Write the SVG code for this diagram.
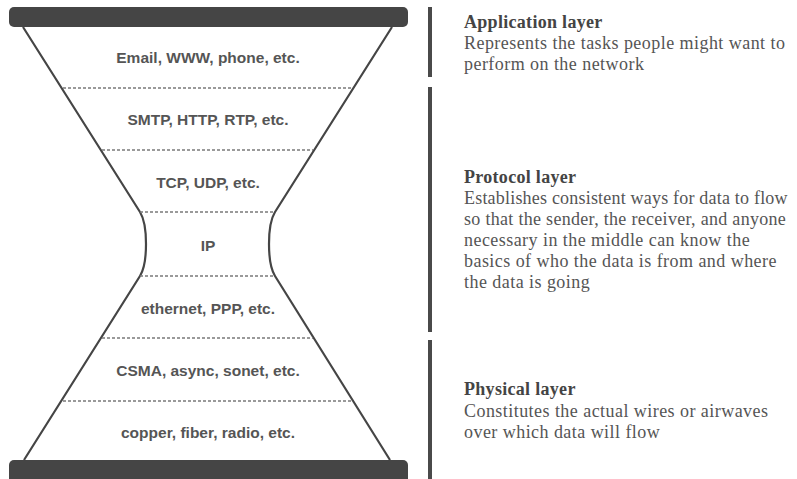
<svg xmlns="http://www.w3.org/2000/svg" width="797" height="479" viewBox="0 0 797 479">
<style>
.bar{fill:#454545}
.side{fill:none;stroke:#454545;stroke-width:2.2}
.dash{stroke:#7a7a7a;stroke-width:1.3;stroke-dasharray:3 2}
.lbl{font-family:"Liberation Sans",Arial,sans-serif;font-weight:bold;font-size:15.5px;fill:#555;text-anchor:middle}
.vbar{fill:#4a4a4a}
.hd{font-family:"Liberation Serif","Times New Roman",serif;font-weight:bold;font-size:18px;letter-spacing:0.3px;fill:#444}
.bd{font-family:"Liberation Serif","Times New Roman",serif;font-size:18px;letter-spacing:0.45px;fill:#555}
</style>
<rect width="797" height="479" fill="#fff"/>
<g id="hourglass">
<rect class="bar" x="9" y="7" width="399" height="20" rx="5"/>
<rect class="bar" x="9" y="460" width="399" height="25" rx="5"/>
<path class="side" d="M23,27 L140,212 C148,225 148,263 140,276 L24,460"/>
<path class="side" d="M392,27 L275,212 C267,225 267,263 275,276 L390,460"/>
</g>
<g id="dividers">
<line class="dash" x1="63" y1="88" x2="353" y2="88"/>
<line class="dash" x1="102" y1="150" x2="313" y2="150"/>
<line class="dash" x1="140" y1="212" x2="275" y2="212"/>
<line class="dash" x1="140" y1="276" x2="275" y2="276"/>
<line class="dash" x1="102" y1="338" x2="313" y2="338"/>
<line class="dash" x1="63" y1="401" x2="353" y2="401"/>
</g>
<g id="l1"><text class="lbl" x="208" y="63">Email, WWW, phone, etc.</text></g>
<g id="l2"><text class="lbl" x="208" y="125">SMTP, HTTP, RTP, etc.</text></g>
<g id="l3"><text class="lbl" x="208" y="188">TCP, UDP, etc.</text></g>
<g id="l4"><text class="lbl" x="208" y="251">IP</text></g>
<g id="l5"><text class="lbl" x="208" y="314">ethernet, PPP, etc.</text></g>
<g id="l6"><text class="lbl" x="208" y="376">CSMA, async, sonet, etc.</text></g>
<g id="l7"><text class="lbl" x="208" y="438">copper, fiber, radio, etc.</text></g>
<g id="application">
<rect class="vbar" x="428" y="7" width="4" height="70"/>
<text class="hd" x="464" y="28">Application layer</text>
<text class="bd" x="464" y="49">Represents the tasks people might want to</text>
<text class="bd" x="464" y="70">perform on the network</text>
</g>
<g id="protocol">
<rect class="vbar" x="428" y="87" width="4" height="245"/>
<text class="hd" x="464" y="183">Protocol layer</text>
<text class="bd" x="464" y="204" style="letter-spacing:0.2px">Establishes consistent ways for data to flow</text>
<text class="bd" x="464" y="225" style="letter-spacing:0.3px">so that the sender, the receiver, and anyone</text>
<text class="bd" x="464" y="246">necessary in the middle can know the</text>
<text class="bd" x="464" y="267">basics of who the data is from and where</text>
<text class="bd" x="464" y="288">the data is going</text>
</g>
<g id="physical">
<rect class="vbar" x="428" y="340" width="4" height="139"/>
<text class="hd" x="464" y="395">Physical layer</text>
<text class="bd" x="464" y="417">Constitutes the actual wires or airwaves</text>
<text class="bd" x="464" y="438">over which data will flow</text>
</g>
</svg>
